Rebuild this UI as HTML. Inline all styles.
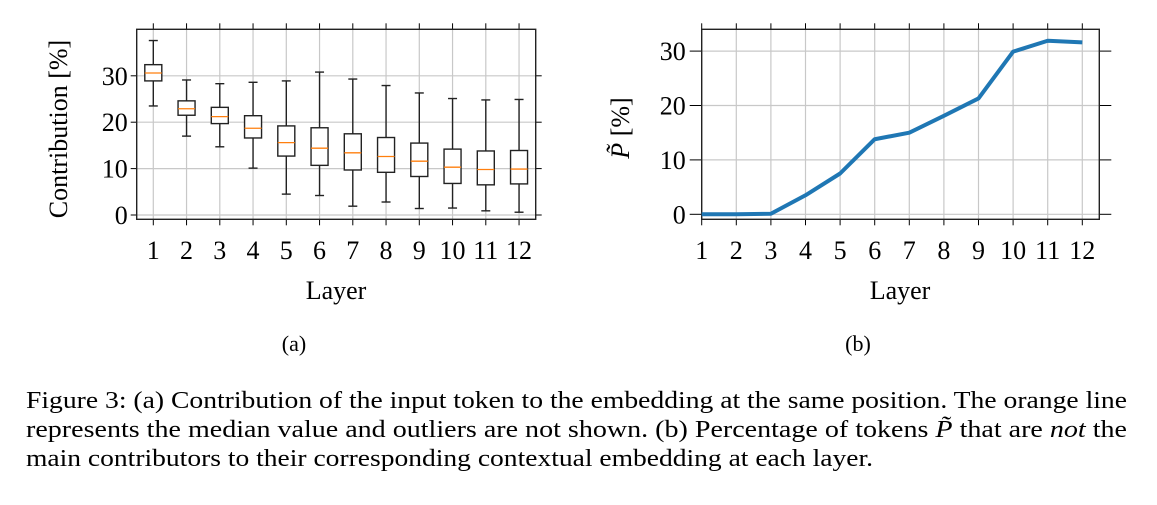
<!DOCTYPE html>
<html><head><meta charset="utf-8"><style>
body{margin:0;background:#fff;}
svg text{font-family:"Liberation Serif",serif;fill:#000;}
</style></head><body>
<svg width="1157" height="500" viewBox="0 0 1157 500">
<g id="chartA"></g>
<g id="chartB"></g>
<text x="294" y="351" font-size="22" text-anchor="middle">(a)</text>
<text x="858" y="351" font-size="22" text-anchor="middle">(b)</text>
<g font-size="24">
<text x="26" y="408" textLength="1101" lengthAdjust="spacingAndGlyphs">Figure 3: (a) Contribution of the input token to the embedding at the same position. The orange line</text>
<text x="26" y="437" textLength="1101" lengthAdjust="spacingAndGlyphs">represents the median value and outliers are not shown. (b) Percentage of tokens <tspan font-style="italic">P̃</tspan> that are <tspan font-style="italic">not</tspan> the</text>
<text x="26" y="466" textLength="847" lengthAdjust="spacingAndGlyphs">main contributors to their corresponding contextual embedding at each layer.</text>
</g>
</svg>
<script>
const layers=[1,2,3,4,5,6,7,8,9,10,11,12];
const whiskerHigh=[37.6,29.1,28.3,28.6,28.9,30.8,29.3,27.9,26.3,25.1,24.8,24.9];
const q3=[32.4,24.6,23.2,21.4,19.2,18.8,17.5,16.7,15.5,14.2,13.8,13.9];
const medians=[30.6,22.9,21.2,18.7,15.6,14.4,13.4,12.6,11.6,10.3,9.8,9.9];
const q1=[28.9,21.5,19.7,16.6,12.7,10.7,9.7,9.2,8.3,6.8,6.5,6.7];
const whiskerLow=[23.5,17.0,14.7,10.1,4.5,4.2,1.9,2.8,1.4,1.5,0.9,0.6];
const yTicksA=[0,10,20,30];
const pTilde=[0,0,0.1,3.5,7.5,13.8,15.0,18.1,21.3,29.9,31.9,31.6];
const yTicksB=[0,10,20,30];
const NS="http://www.w3.org/2000/svg";
function mk(p,t,a){const e=document.createElementNS(NS,t);for(const k in a)e.setAttribute(k,a[k]);p.appendChild(e);return e;}
function txt(p,x,y,s,anchor,size){const e=mk(p,'text',{x:x,y:y,'text-anchor':anchor,'font-size':size});e.textContent=s;return e;}

// Chart A
const A=document.getElementById('chartA');
const ax=l=>153.3+(l-1)*33.25, ay=v=>215-v*4.64;
const AL=136.7,AR=535.7,AT=29.3,AB=219.3;
layers.forEach(l=>{const g=mk(A,'line',{x1:ax(l),x2:ax(l),y1:AT,y2:AB,stroke:'#c8c8c8','stroke-width':1.2});

mk(A,'line',{x1:ax(l),x2:ax(l),y1:AT-6,y2:AT,stroke:'#000','stroke-width':1});
mk(A,'line',{x1:ax(l),x2:ax(l),y1:AB,y2:AB+6,stroke:'#000','stroke-width':1});
const t=txt(A,ax(l),259,String(l),'middle',26);});
yTicksA.forEach(v=>{mk(A,'line',{x1:AL,x2:AR,y1:ay(v),y2:ay(v),stroke:'#c8c8c8','stroke-width':1.2});
mk(A,'line',{x1:AL-6,x2:AL,y1:ay(v),y2:ay(v),stroke:'#000','stroke-width':1});
mk(A,'line',{x1:AR,x2:AR+6,y1:ay(v),y2:ay(v),stroke:'#000','stroke-width':1});
const t=txt(A,AL-9,ay(v)+9,String(v),'end',26);});
const fa=mk(A,'rect',{x:AL,y:AT,width:AR-AL,height:AB-AT,fill:'none',stroke:'#222','stroke-width':1.4});

layers.forEach((l,i)=>{const x=ax(l),w=17;
const g=mk(A,'g',{});
mk(g,'line',{x1:x,x2:x,y1:ay(whiskerHigh[i]),y2:ay(q3[i]),stroke:'#222','stroke-width':1.4});
mk(g,'line',{x1:x,x2:x,y1:ay(q1[i]),y2:ay(whiskerLow[i]),stroke:'#222','stroke-width':1.4});
mk(g,'line',{x1:x-4.5,x2:x+4.5,y1:ay(whiskerHigh[i]),y2:ay(whiskerHigh[i]),stroke:'#222','stroke-width':1.4});
mk(g,'line',{x1:x-4.5,x2:x+4.5,y1:ay(whiskerLow[i]),y2:ay(whiskerLow[i]),stroke:'#222','stroke-width':1.4});
mk(g,'rect',{x:x-w/2,y:ay(q3[i]),width:w,height:ay(q1[i])-ay(q3[i]),fill:'#fff',stroke:'#222','stroke-width':1.4});
const m=mk(g,'line',{x1:x-w/2,x2:x+w/2,y1:ay(medians[i]),y2:ay(medians[i]),stroke:'#ff7f0e','stroke-width':1.3});
});
let t=txt(A,0,0,'Contribution [%]','middle',26);t.setAttribute('transform','translate(67,129) rotate(-90)');

t=txt(A,336,299,'Layer','middle',26);

// Chart B
const B=document.getElementById('chartB');
const bx=l=>701.7+(l-1)*34.6, by=v=>214.3-v*5.44;
const BL=701.7,BR=1099.3,BT=29.3,BB=219.3;
layers.forEach(l=>{mk(B,'line',{x1:bx(l),x2:bx(l),y1:BT,y2:BB,stroke:'#c8c8c8','stroke-width':1.2});
mk(B,'line',{x1:bx(l),x2:bx(l),y1:BT-6,y2:BT,stroke:'#000','stroke-width':1});
mk(B,'line',{x1:bx(l),x2:bx(l),y1:BB,y2:BB+6,stroke:'#000','stroke-width':1});
const t=txt(B,bx(l),259,String(l),'middle',26);});
yTicksB.forEach(v=>{mk(B,'line',{x1:BL,x2:BR,y1:by(v),y2:by(v),stroke:'#c8c8c8','stroke-width':1.2});
mk(B,'line',{x1:BL-12,x2:BL,y1:by(v),y2:by(v),stroke:'#000','stroke-width':1});
mk(B,'line',{x1:BR,x2:BR+12,y1:by(v),y2:by(v),stroke:'#000','stroke-width':1});
const t=txt(B,BL-16,by(v)+9,String(v),'end',26);});
const fb=mk(B,'rect',{x:BL,y:BT,width:BR-BL,height:BB-BT,fill:'none',stroke:'#222','stroke-width':1.4});

const ln=mk(B,'polyline',{points:layers.map((l,i)=>bx(l)+','+by(pTilde[i])).join(' '),fill:'none',stroke:'#1f77b4','stroke-width':4,'stroke-linejoin':'round'});

t=txt(B,0,0,'','middle',26);t.setAttribute('transform','translate(629,128) rotate(-90)');
t.innerHTML='<tspan font-style="italic">P̃</tspan> [%]';

t=txt(B,900,299,'Layer','middle',26);
</script>
</body></html>
